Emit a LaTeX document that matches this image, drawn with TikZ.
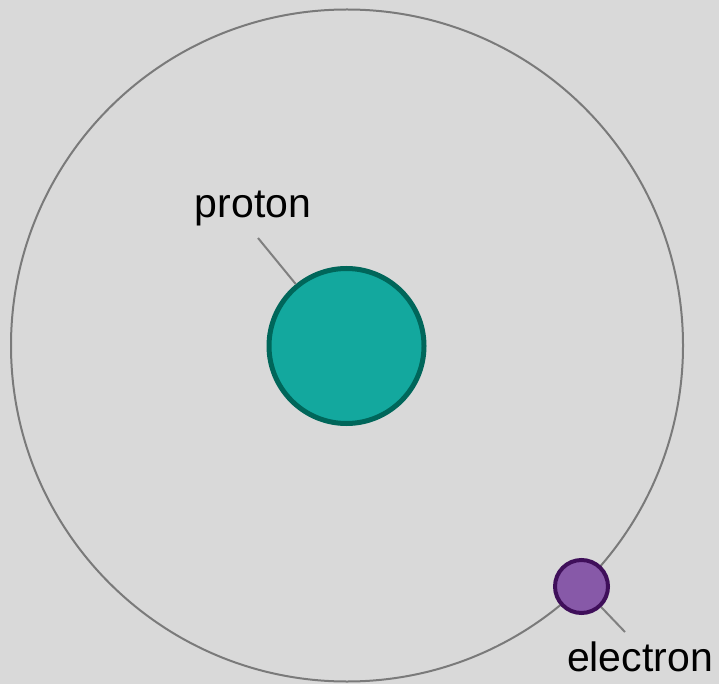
\documentclass[tikz,border=0pt]{standalone}
\usepackage{fontspec}
\setmainfont{Liberation Sans}
\definecolor{bg}{HTML}{D9D9D9}
\definecolor{orbitc}{HTML}{7A7A7A}
\definecolor{protfill}{HTML}{13A89E}
\definecolor{protdraw}{HTML}{00665A}
\definecolor{elfill}{HTML}{8759A8}
\definecolor{eldraw}{HTML}{3F0F5A}
\definecolor{leader}{HTML}{808080}
\begin{document}
\begin{tikzpicture}[x=1pt,y=-1pt,
  lbl/.style={font=\fontsize{41}{49}\selectfont, text=black, inner sep=0pt},
  leaderline/.style={draw=leader, line width=2pt}]
\fill[bg] (0,0) rectangle (719,684);
\useasboundingbox (0,0) rectangle (719,684);
\node[circle, draw=orbitc, line width=2pt, minimum size=672pt, inner sep=0pt] (orbit) at (347,345.5) {};
\node[circle, fill=protfill, draw=protdraw, line width=5pt, minimum size=155pt, inner sep=0pt] (proton) at (346.5,346) {};
\node[circle, fill=elfill, draw=eldraw, line width=4pt, minimum size=53pt, inner sep=0pt] (electron) at (581.5,586.5) {};
\node[lbl, anchor=base] (plabel) at (253,218) {proton};
\node[lbl, anchor=base] (elabel) at (640,671) {electron};
\coordinate (pstart) at (258,238);
\coordinate (estart) at (625,632);
\draw[leaderline] (pstart) -- (proton);
\draw[leaderline] (estart) -- (electron);
\end{tikzpicture}
\end{document}
